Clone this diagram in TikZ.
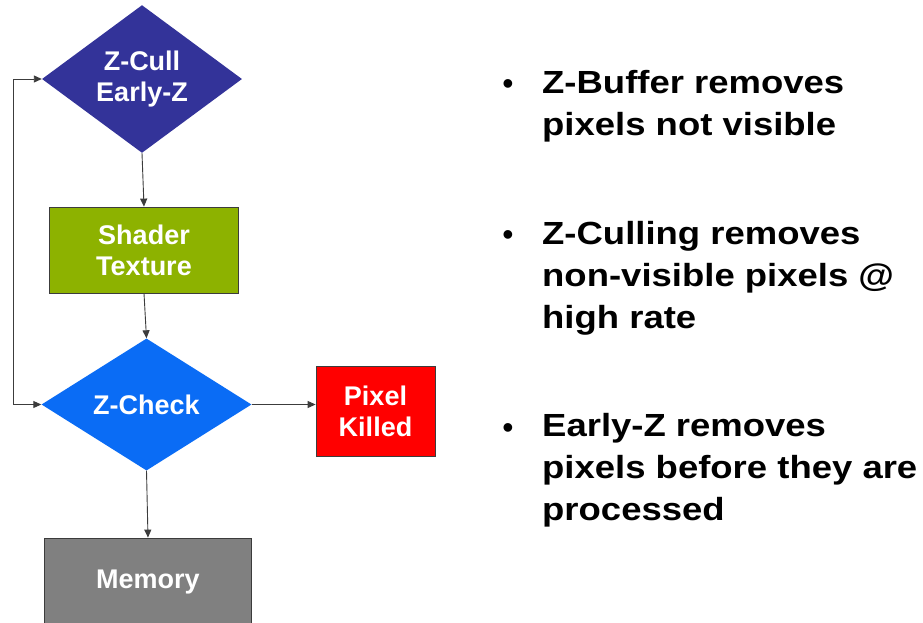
\documentclass[tikz,border=0pt]{standalone}
\usepackage{fontspec}
\setmainfont{Liberation Sans}
\newfontfamily\widefont[FakeStretch=1.14]{Liberation Sans}
\usetikzlibrary{shapes.geometric,arrows.meta}
\definecolor{zcullc}{RGB}{51,51,153}
\definecolor{shaderc}{RGB}{141,178,0}
\definecolor{zcheckc}{RGB}{10,108,245}
\definecolor{killc}{RGB}{255,0,0}
\definecolor{memc}{RGB}{128,128,128}
\definecolor{edgec}{RGB}{60,60,60}
\begin{document}
\begin{tikzpicture}[x=1pt,y=-1pt,
  flowtext/.style={text=white,font=\fontsize{27}{31}\selectfont\bfseries,align=center,inner sep=0pt},
  dia/.style={flowtext,shape=diamond,draw=none},
  box/.style={flowtext,shape=rectangle,draw=edgec,line width=0.8pt},
  conn/.style={draw=edgec,line width=0.9pt,-{Triangle[length=8pt,width=7pt]}},
  bul/.style={inner sep=0pt,font=\fontsize{32}{32}\selectfont},
  btxt/.style={inner sep=0pt,anchor=base west,align=left,font=\widefont\fontsize{32}{42}\selectfont\bfseries}]
\useasboundingbox (0,0) rectangle (923,622);
\clip (0,0) rectangle (923,622);
\fill[white] (0,0) rectangle (923,622);
% flowchart
\node[dia,fill=zcullc,minimum width=200pt,minimum height=137pt] (zcull) at (142,79) {Z-Cull\\Early-Z};
\node[box,fill=shaderc,minimum width=189pt,minimum height=86pt] (shader) at (144,250) {Shader\\Texture};
\node[dia,fill=zcheckc,minimum width=210pt,minimum height=132pt] (zcheck) at (146.5,404.5) {Z-Check};
\node[box,fill=killc,minimum width=119pt,minimum height=90pt] (killed) at (375.5,411) {Pixel\\Killed};
\node[box,fill=memc,minimum width=207pt,minimum height=88pt] (memory) at (148,582) {Memory};
\coordinate (fbtop) at (13,79);
\coordinate (fbbot) at (13,404.5);
\draw[conn] (zcull.south) -- (shader.north);
\draw[conn] (shader.south) -- (zcheck.north);
\draw[conn] (zcheck.east) -- (zcheck.east -| killed.west);
\draw[conn] (zcheck.south) -- (memory.north);
\draw[conn] (fbtop) -- (zcull.west);
\draw[conn] (fbtop) -- (fbbot) -- (zcheck.west);
% bullets
\node[bul] (b1) at (508,87) {•};
\node[btxt] (t1) at (542,135.5) {Z-Buffer removes\\pixels not visible};
\node[bul] (b2) at (508,238.5) {•};
\node[btxt] (t2) at (542,328.5) {Z-Culling removes\\non-visible pixels @\\high rate};
\node[bul] (b3) at (508,431) {•};
\node[btxt] (t3) at (542,520.5) {Early-Z removes\\pixels before they are\\processed};
\end{tikzpicture}
\end{document}
